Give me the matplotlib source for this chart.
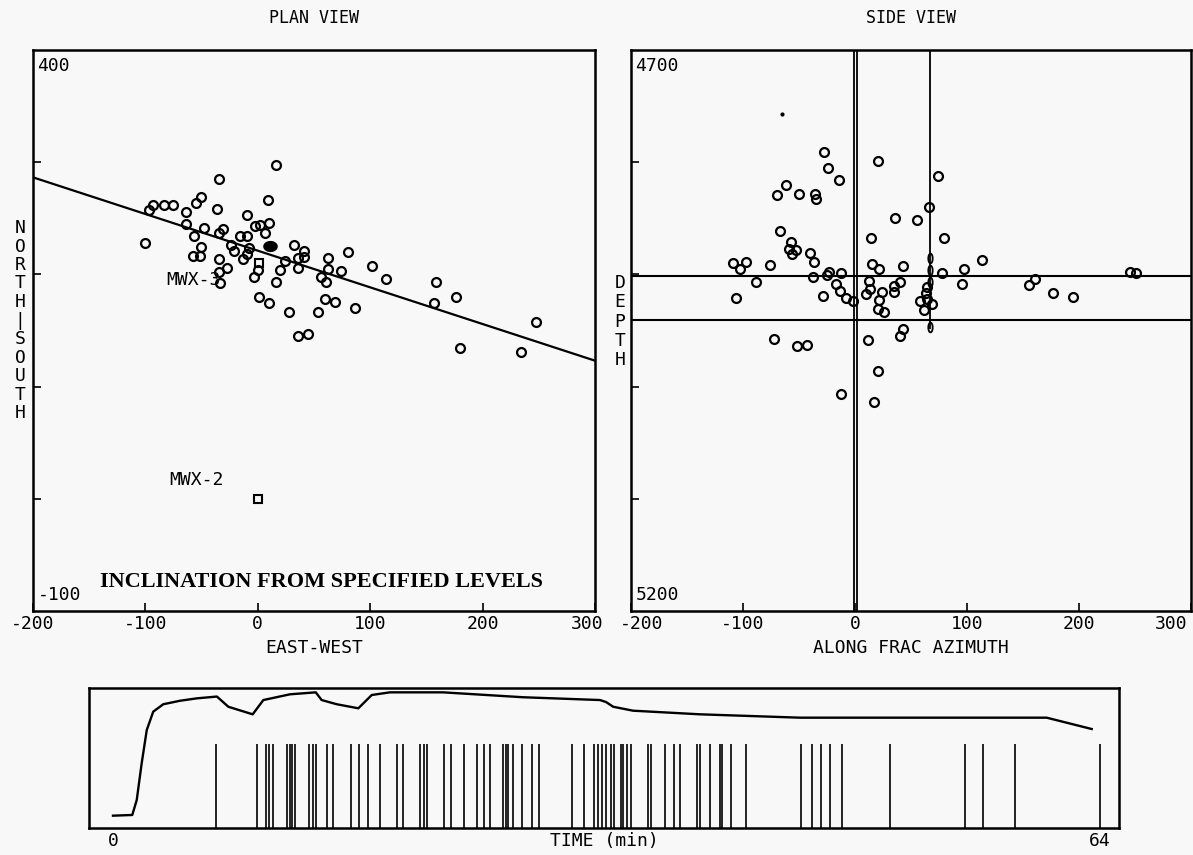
import matplotlib
matplotlib.use('Agg')
import matplotlib.pyplot as plt
import numpy as np
from matplotlib.transforms import ScaledTranslation

BG = '#f8f8f8'
MONO = 'DejaVu Sans Mono'

# ---------------- data ----------------
# Plan view: event locations (east-west, north-south), open circles
plan_x = [-100.7, -96.5, -93.2, -83.8, -75.4, -63.9, -63.6, -54.7, -50.3, -56.5,
          -48.2, -50.5, -58.0, -51.4, -34.3, -36.0, -31.3, -34.3, -34.9, -27.4,
          -34.7, -33.4, -23.6, -21.5, -15.8, -9.3, -10.0, -7.6, -13.5, -9.6,
          -2.7, 1.6, 6.7, 10.4, 8.7, 16.5, -0.2, -3.6, 1.1, 10.2,
          16.5, 20.0, 24.0, 31.8, 35.4, 41.4, 40.7, 35.4, 28.2, 53.6,
          36.0, 45.1, 55.9, 62.5, 62.5, 60.9, 74.3, 79.9, 60.1, 68.9,
          86.1, 101.6, 114.1, 158.2, 156.8, 176.0, 180.2, 234.4, 247.5]
plan_y = [228.3, 257.4, 261.6, 261.6, 261.6, 255.9, 244.9, 263.4, 269.0, 234.5,
          241.1, 224.7, 216.7, 216.1, 285.3, 258.0, 240.7, 237.2, 213.7, 205.7,
          202.4, 192.1, 225.9, 221.1, 234.0, 234.0, 252.9, 223.8, 213.7, 217.9,
          243.3, 243.9, 236.6, 245.6, 266.3, 297.2, 203.8, 197.5, 180.1, 174.5,
          193.0, 204.1, 212.2, 226.2, 214.6, 221.0, 215.8, 205.4, 166.7, 166.3,
          144.9, 147.3, 198.0, 214.3, 204.5, 193.0, 203.3, 220.0, 177.8, 175.1,
          170.3, 207.8, 196.2, 193.0, 174.2, 179.6, 134.1, 131.1, 157.6]
# wells (squares)
well_x = [0.0, 0.9]
well_y = [0.0, 210.4]
well_names = ['MWX-2', 'MWX-3']
# filled point
fill_x = [10.5]
fill_y = [225.3]
# fitted fracture azimuth line (end points)
line_x = [-200, 300]
line_y = [286.5, 123.1]

# Side view: along frac azimuth vs depth
side_a = [-27.7, -23.7, -14.6, 20.8, 73.8, -61.9, -69.2, -50.0, -35.4, -34.6,
          65.8, 35.7, 55.1, -67.0, 14.3, 79.7, -57.1, -58.5, -52.9, -56.3,
          -40.2, -36.3, -108.5, -97.5, -102.7, -75.9, -88.7, -106.5, -37.2, -23.2,
          -25.3, -12.2, -28.3, -17.0, -13.4, -8.3, -1.5, 14.9, 21.4, 42.9,
          12.7, 13.4, 9.8, 23.8, 21.4, 20.3, 25.9, 35.1, 35.1, 40.2,
          64.0, 63.4, 58.0, 64.0, 69.0, 61.6, 77.4, 97.6, 95.3, 113.1,
          160.7, 155.6, 176.5, 194.9, 245.5, 250.6, -72.1, -52.1, -42.6, 11.3,
          40.2, 42.9, 20.3, -12.2, 17.0]
side_d = [4791.3, 4805.4, 4816.3, 4799.1, 4812.2, 4820.5, 4829.5, 4828.6, 4828.0, 4833.0,
          4839.6, 4850.0, 4851.2, 4861.0, 4867.6, 4867.6, 4871.2, 4877.1, 4878.1, 4882.1,
          4881.3, 4888.8, 4889.9, 4888.8, 4895.5, 4892.0, 4906.9, 4921.3, 4902.1, 4897.9,
          4900.4, 4898.4, 4919.0, 4908.9, 4914.9, 4921.0, 4923.8, 4890.4, 4894.9, 4892.9,
          4906.0, 4912.8, 4917.9, 4915.8, 4922.9, 4930.6, 4933.7, 4910.4, 4915.8, 4906.5,
          4911.6, 4917.0, 4923.8, 4922.3, 4926.8, 4932.1, 4899.1, 4895.5, 4908.3, 4887.5,
          4903.8, 4909.8, 4917.0, 4920.5, 4897.6, 4899.1, 4957.4, 4963.4, 4962.9, 4958.9,
          4954.5, 4949.1, 4986.3, 5006.3, 5013.4]
# receiver / gauge marks along the offset well line
gauge_a = [67, 67, 67, 67]
gauge_d = [4885.7, 4896.2, 4906.5, 4946.7]
dot_a = [-65.4]
dot_d = [4757.1]
zone_depths = [4901, 4941]
well_offsets = [-1.0, 1.5]
offset_well = 67
offset_well_bottom = 4949

# Time history: pressure curve (normalised) and event times (min)
curve_t = [0.0, 1.25, 1.54, 1.86, 2.19, 2.61, 3.26, 4.35, 5.43, 6.74,
           7.48, 9.06, 9.75, 11.48, 13.15, 13.53, 14.51, 15.91, 16.78, 17.96,
           21.40, 26.59, 31.58, 31.97, 32.44, 33.72, 38.07, 44.55, 60.55, 63.47]
curve_p = [0.088, 0.093, 0.20, 0.462, 0.70, 0.831, 0.884, 0.909, 0.926, 0.939,
           0.866, 0.812, 0.914, 0.955, 0.969, 0.914, 0.884, 0.855, 0.95, 0.969,
           0.969, 0.934, 0.914, 0.90, 0.866, 0.838, 0.812, 0.788, 0.788, 0.707]
event_t = [6.66, 9.32, 9.90, 10.12, 10.38, 11.30, 11.45, 11.61, 11.80, 12.71,
           12.99, 13.15, 13.90, 14.29, 15.43, 15.95, 16.56, 17.32, 18.40, 18.83,
           19.91, 20.19, 20.36, 21.48, 21.92, 22.76, 23.59, 24.08, 24.45, 25.31,
           25.47, 25.64, 25.96, 26.54, 27.15, 27.65, 29.75, 30.56, 31.19, 31.45,
           31.71, 31.97, 32.30, 32.49, 32.94, 33.07, 33.33, 33.59, 34.72, 34.87,
           35.80, 36.38, 36.77, 37.85, 38.07, 38.72, 39.37, 39.48, 40.05, 41.05,
           44.62, 45.31, 45.89, 46.50, 47.26, 50.39, 55.25, 56.40, 58.50, 64.0]
event_height = 0.6

xticks = [-200, -100, 0, 100, 200, 300]
xtick_labels = ['-200', '-100', '0', '100', '200', '300']

# ---------------- figure ----------------
plt.rcParams['font.family'] = [MONO, 'DejaVu Sans']
fig = plt.figure(figsize=(11.93, 8.55), dpi=100, facecolor=BG)
ax1 = fig.add_axes([0.02766, 0.28538, 0.47108, 0.65614], facecolor=BG)
ax2 = fig.add_axes([0.52892, 0.28538, 0.4694, 0.65614], facecolor=BG)
ax3 = fig.add_axes([0.0746, 0.03158, 0.86337, 0.16374], facecolor=BG)

th = np.linspace(0, 2 * np.pi, 41)
ellipse_wide = list(zip(1.35 * np.cos(th), np.sin(th)))
ellipse_narrow = list(zip(0.45 * np.cos(th), np.sin(th)))

circ = dict(linestyle='none', marker='o', ms=6.4, mfc='none', mec='black', mew=1.6)


def style_axes(ax):
    for s in ax.spines.values():
        s.set_linewidth(1.8)
    ax.tick_params(axis='both', direction='in', length=6, width=1.2,
                   labelsize=13, pad=3, top=False, right=False)
    ax.set_xticks(xticks)
    ax.set_xticklabels(xtick_labels)


# ----- plan view -----
ax1.plot(line_x, line_y, color='black', lw=1.6)
ax1.plot(plan_x, plan_y, **circ)
ax1.plot(well_x, well_y, linestyle='none', marker='s', ms=5.5, mfc='none',
         mec='black', mew=1.5)
ax1.plot(fill_x, fill_y, linestyle='none', marker=ellipse_wide, ms=9.5,
         color='black')
ax1.set_xlim(-200, 300)
ax1.set_ylim(-100, 400)
style_axes(ax1)
ax1.set_yticks([0, 100, 200, 300])
ax1.set_yticklabels([])
ax1.text(0.008, 0.988, '400', transform=ax1.transAxes, ha='left', va='top', fontsize=13)
ax1.text(0.008, 0.012, '-100', transform=ax1.transAxes, ha='left', va='bottom', fontsize=13)
ax1.text(-30.5, 16.5, well_names[0], ha='right', va='center', fontsize=13)
ax1.text(-33.0, 195.0, well_names[1], ha='right', va='center', fontsize=13)
ax1.text(-140, -74, 'INCLINATION FROM SPECIFIED LEVELS', ha='left', va='center',
         fontsize=16, fontweight='bold', family='Liberation Serif')

# ----- side view -----
for yv in zone_depths:
    ax2.axhline(yv, color='black', lw=1.5)
for xv in well_offsets:
    ax2.axvline(xv, color='black', lw=1.3)
ax2.vlines(offset_well, 4700, offset_well_bottom, color='black', lw=1.3)
ax2.plot(side_a, side_d, **circ)
ax2.plot(gauge_a, gauge_d, linestyle='none', marker=ellipse_narrow, ms=7,
         mfc='none', mec='black', mew=1.3)
ax2.plot(dot_a, dot_d, linestyle='none', marker='o', ms=2, color='black')
ax2.set_xlim(-200, 300)
ax2.set_ylim(5200, 4700)
style_axes(ax2)
ax2.set_yticks([4800, 4900, 5000, 5100])
ax2.set_yticklabels([])
ax2.text(0.008, 0.988, '4700', transform=ax2.transAxes, ha='left', va='top', fontsize=13)
ax2.text(0.008, 0.012, '5200', transform=ax2.transAxes, ha='left', va='bottom', fontsize=13)

# shift extreme tick labels so they do not collide
def shift_label(ax, idx, dx_px):
    lab = ax.get_xticklabels()[idx]
    lab.set_transform(lab.get_transform() + ScaledTranslation(dx_px / 100.0, 0, fig.dpi_scale_trans))

shift_label(ax1, 5, -8)
shift_label(ax2, 0, 11)
shift_label(ax2, 5, -20)

# stacked axis labels
def stacked(x_px, y0_px, step_px, s):
    for i, ch in enumerate(s):
        fig.text(x_px / 1193, 1 - (y0_px + i * step_px) / 855, ch, ha='center',
                 va='center', fontsize=13)

stacked(20, 228, 18.5, 'NORTH|SOUTH')
stacked(620, 283, 19.3, 'DEPTH')

fig.text(314 / 1193, 1 - 18 / 855, 'PLAN VIEW', ha='center', va='center', fontsize=12)
fig.text(911 / 1193, 1 - 18 / 855, 'SIDE VIEW', ha='center', va='center', fontsize=12)
fig.text(314 / 1193, 1 - 648 / 855, 'EAST-WEST', ha='center', va='center', fontsize=13)
fig.text(911 / 1193, 1 - 648 / 855, 'ALONG FRAC AZIMUTH', ha='center', va='center', fontsize=13)

# ----- time history -----
ax3.plot(curve_t, curve_p, color='black', lw=1.7)
ax3.vlines(event_t, 0, event_height, color='black', lw=1.2)
ax3.set_xlim(-1.556, 65.24)
ax3.set_ylim(0, 1)
for s in ax3.spines.values():
    s.set_linewidth(1.8)
ax3.set_yticks([])
ax3.set_xticks([0, 64])
ax3.set_xticklabels(['0', '64'])
ax3.tick_params(axis='x', length=0, labelsize=13, pad=3)
ax3.text(0.5, 0, 'TIME (min)', transform=ax3.transAxes + ScaledTranslation(0, -4 / 100, fig.dpi_scale_trans),
         ha='center', va='top', fontsize=13)

fig.savefig('out.png', dpi=100, facecolor=BG)
